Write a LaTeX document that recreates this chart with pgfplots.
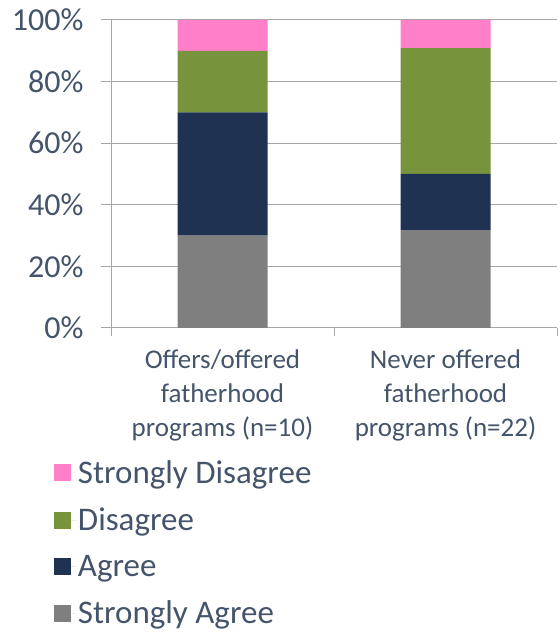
\documentclass[border=0pt]{standalone}
\usepackage{pgfplots}
\pgfplotsset{compat=1.18}
\usepackage{fontspec}
\setmainfont{Carlito}
\definecolor{txt}{HTML}{44546A}
\definecolor{sdis}{HTML}{FF7FC8}
\definecolor{dis}{HTML}{77933C}
\definecolor{agr}{HTML}{1F3251}
\definecolor{sagr}{HTML}{7F7F7F}
\definecolor{gridc}{HTML}{A6A6A6}
\begin{document}
\begin{tikzpicture}[x=1bp,y=1bp]
\useasboundingbox (0,0) rectangle (560,632);
\begin{axis}[
  at={(111bp,304bp)}, anchor=south west,
  scale only axis, width=446bp, height=308bp,
  ybar stacked, bar width=90bp,
  xmin=-0.5, xmax=1.5, ymin=0, ymax=100,
  xtick={0,1},
  xticklabels={{Offers/offered\\fatherhood\\programs (n=10)},{Never offered\\fatherhood\\programs (n=22)}},
  x tick label style={align=center, font=\fontsize{27bp}{34bp}\selectfont, text=txt, yshift=-8bp},
  minor xtick={-0.5,0.5,1.5},
  ytick={0,20,40,60,80,100},
  yticklabel={\pgfmathprintnumber{\tick}\%},
  /pgf/number format/assume math mode=true,
  y tick label style={font=\fontsize{32bp}{36bp}\selectfont, text=txt, xshift=-14bp},
  axis line style={draw=gridc, line width=1bp},
  axis x line*=bottom, axis y line*=left,
  tick align=outside,
  major tick length=10bp, minor tick length=8bp,
  x tick style={draw=none}, minor x tick style={draw=gridc, line width=1bp},
  y tick style={draw=gridc, line width=1bp},
  ymajorgrids, grid style={draw=gridc, line width=1bp},
  enlargelimits=false,
  reverse legend,
  legend style={at={(-0.135,-0.42)}, anchor=north west, draw=none, fill=none,
    font=\fontsize{33bp}{36bp}\selectfont, text=txt, row sep=21bp,
    legend cell align=left, nodes={inner sep=1bp}},
  legend image code/.code={\fill[#1] (0bp,-8.5bp) rectangle (17bp,8.5bp); \path (0bp,0bp) -- (23bp,0bp);},
]
\addplot[fill=sagr, draw=none] coordinates {(0,30) (1,31.8)};
\addplot[fill=agr, draw=none] coordinates {(0,40) (1,18.2)};
\addplot[fill=dis, draw=none] coordinates {(0,20) (1,40.9)};
\addplot[fill=sdis, draw=none] coordinates {(0,10) (1,9.1)};
\legend{Strongly Agree, Agree, Disagree, Strongly Disagree}
\end{axis}
\end{tikzpicture}
\end{document}
